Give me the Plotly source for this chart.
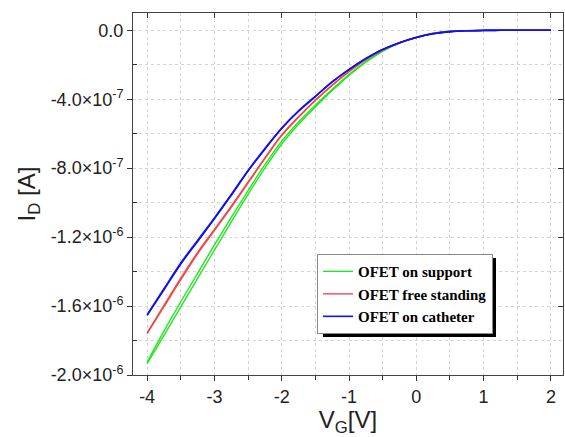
import plotly.graph_objects as go

# Gate voltage (V)
vg = [-4.0, -3.75, -3.5, -3.25, -3.0, -2.75, -2.5, -2.25, -2.0, -1.75, -1.5, -1.25,
      -1.0, -0.75, -0.5, -0.25, 0.0, 0.25, 0.5, 0.75, 1.0, 1.25, 1.5, 1.75, 2.0]

# Drain current (x1e-6 A)
support_fwd = [-1.934, -1.770, -1.605, -1.440, -1.276, -1.112, -0.952, -0.800, -0.660, -0.545,
               -0.445, -0.350, -0.262, -0.185, -0.122, -0.074, -0.040, -0.017, -0.006, -0.002,
               -0.001, -0.0004, 0.0, 0.0, 0.0]
support_rev = [-1.925, -1.745, -1.575, -1.410, -1.245, -1.085, -0.930, -0.780, -0.643, -0.532,
               -0.435, -0.343, -0.257, -0.182, -0.120, -0.073, -0.040, -0.017, -0.006, -0.002,
               -0.001, -0.0004, 0.0, 0.0, 0.0]
free_fwd = [-1.760, -1.604, -1.447, -1.297, -1.162, -1.027, -0.886, -0.745, -0.611, -0.505,
            -0.408, -0.320, -0.240, -0.170, -0.115, -0.073, -0.042, -0.019, -0.007, -0.002,
            -0.001, -0.0004, 0.0, 0.0, 0.0]
free_rev = [-1.755, -1.596, -1.438, -1.289, -1.155, -1.020, -0.880, -0.740, -0.607, -0.502,
            -0.406, -0.318, -0.239, -0.169, -0.114, -0.073, -0.042, -0.019, -0.007, -0.002,
            -0.001, -0.0004, 0.0, 0.0, 0.0]
cath_fwd = [-1.654, -1.506, -1.356, -1.225, -1.094, -0.958, -0.817, -0.690, -0.570, -0.470,
            -0.385, -0.300, -0.228, -0.165, -0.112, -0.072, -0.042, -0.020, -0.008, -0.003,
            -0.001, -0.0004, 0.0, 0.0, 0.0]
cath_rev = [-1.650, -1.500, -1.350, -1.219, -1.089, -0.953, -0.813, -0.686, -0.567, -0.468,
            -0.383, -0.299, -0.227, -0.164, -0.111, -0.072, -0.042, -0.020, -0.008, -0.003,
            -0.001, -0.0004, 0.0, 0.0, 0.0]

y_major = [0.0, -4e-7, -8e-7, -1.2e-6, -1.6e-6, -2.0e-6]
y_major_text = ["0.0", "-4.0×10<sup>-7</sup>", "-8.0×10<sup>-7</sup>", "-1.2×10<sup>-6</sup>",
                "-1.6×10<sup>-6</sup>", "-2.0×10<sup>-6</sup>"]
y_minor = [-2e-7, -6e-7, -1.0e-6, -1.4e-6, -1.8e-6]
x_major = [-4, -3, -2, -1, 0, 1, 2]
x_major_text = ["-4", "-3", "-2", "-1", "0", "1", "2"]
x_minor = [-3.5, -2.5, -1.5, -0.5, 0.5, 1.5]

def scale(vals):
    return [v * 1e-6 for v in vals]

fig = go.Figure()
series = [
    ("OFET on support", "#22e622", support_fwd, support_rev, 1.4),
    ("OFET free standing", "#f04848", free_fwd, free_rev, 1.4),
    ("OFET on catheter", "#1010f0", cath_fwd, cath_rev, 1.6),
]
for name, color, fwd, rev, w in series:
    fig.add_trace(go.Scatter(x=vg, y=scale(fwd), mode="lines", name=name,
                             line=dict(color=color, width=w, shape="spline"),
                             legendgroup=name))
    fig.add_trace(go.Scatter(x=vg, y=scale(rev), mode="lines", name=name,
                             line=dict(color=color, width=w, shape="spline"),
                             legendgroup=name, showlegend=False))

# invisible trace for mirrored top/right axes
fig.add_trace(go.Scatter(x=vg, y=scale(cath_fwd), xaxis="x2", yaxis="y2", mode="lines",
                         line=dict(width=0), opacity=0, showlegend=False, hoverinfo="skip"))

xr = [-4.21, 2.18]
yr = [-2.0e-6, 1.0e-7]
grid = dict(showgrid=True, gridcolor="#d4d4d4", griddash="dot", gridwidth=1)
axis_font = dict(family="Liberation Sans, Arial, sans-serif", size=18, color="#222")
title_font = dict(family="Liberation Sans, Arial, sans-serif", size=24, color="#222")

fig.update_layout(
    width=565, height=437,
    margin=dict(l=133, r=2, t=13, b=62, autoexpand=False),
    paper_bgcolor="white", plot_bgcolor="white",
    font=axis_font,
    xaxis=dict(range=xr, tickmode="array", tickvals=x_major, ticktext=x_major_text,
               ticks="outside", ticklen=5, automargin=False,
               tickcolor="#333", showline=True, linecolor="#444", linewidth=1,
               zeroline=False, tickfont=axis_font,
               minor=dict(tickvals=x_minor, ticks="outside", ticklen=4, tickcolor="#333", **grid),
               title=dict(text="V<sub>G</sub>[V]", font=title_font, standoff=0),
               **grid),
    yaxis=dict(range=yr, tickmode="array", tickvals=y_major, ticktext=y_major_text,
               ticks="outside", ticklen=5, tickcolor="#333", showline=True, linecolor="#444",
               linewidth=1, zeroline=False, tickfont=axis_font, automargin=False,
               minor=dict(tickvals=y_minor, ticks="inside", ticklen=4, tickcolor="#333", **grid),
               title=dict(text="I<sub>D</sub> [A]", font=title_font, standoff=8),
               **grid),
    xaxis2=dict(range=xr, overlaying="x", side="top", tickmode="array", tickvals=x_major,
                ticks="inside", ticklen=5, tickcolor="#333", showticklabels=False, automargin=False,
                showline=True, linecolor="#444", linewidth=1, showgrid=False, zeroline=False),
    yaxis2=dict(range=yr, overlaying="y", side="right", tickmode="array", tickvals=y_major,
                ticks="inside", ticklen=5, tickcolor="#333", showticklabels=False, automargin=False,
                showline=True, linecolor="#444", linewidth=1, showgrid=False, zeroline=False),
    legend=dict(x=0.428, y=0.334, xanchor="left", yanchor="top",
                bgcolor="white", bordercolor="#888", borderwidth=1,
                font=dict(family="Liberation Serif, Times New Roman, serif", size=15,
                          color="black", weight="bold"),
                itemwidth=30, tracegroupgap=0),
    showlegend=True,
)

# legend drop shadow (paper coordinates)
pw, ph = 430.0, 362.0
fig.add_shape(type="rect", xref="paper", yref="paper", layer="above",
              x0=(323 - 133) / pw, x1=(496 - 133) / pw,
              y0=(375 - 337) / ph, y1=(375 - 258) / ph,
              fillcolor="black", line=dict(width=0))

fig.write_html("out.html", config={"displayModeBar": False},
               post_script="document.body.style.margin='0px';")
